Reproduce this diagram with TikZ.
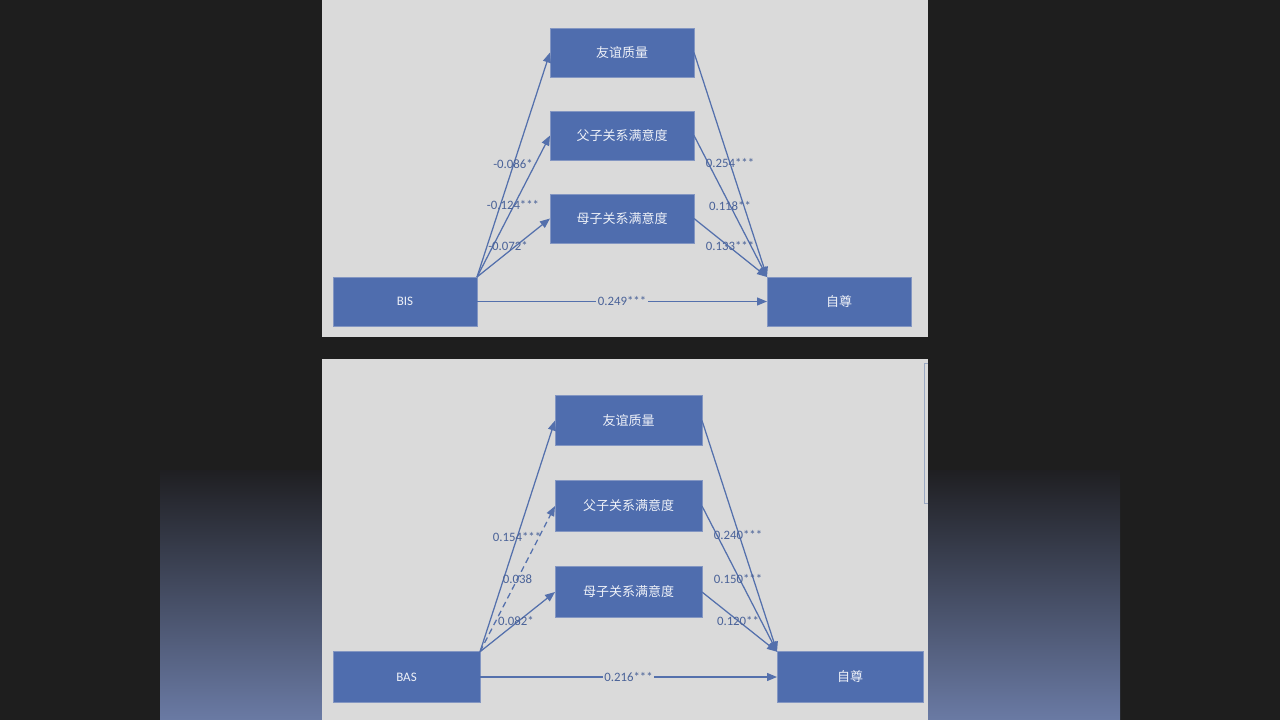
\documentclass[tikz,border=0pt]{standalone}
\usepackage{fontspec}
\setmainfont{Carlito}
\newfontfamily\cjk{Noto Sans CJK SC}
\usetikzlibrary{arrows.meta}
\definecolor{bgdark}{HTML}{1E1E1E}
\definecolor{gradtop}{HTML}{1F1F22}
\definecolor{gradbot}{HTML}{6A7AA4}
\definecolor{panelgray}{HTML}{DADADA}
\definecolor{boxblue}{HTML}{4F6DAE}
\definecolor{boxedge}{HTML}{8396C2}
\definecolor{lineblue}{HTML}{5470AC}
\definecolor{lbltext}{HTML}{4A6298}
\definecolor{boxtext}{HTML}{EEF1F8}
\definecolor{brackcol}{HTML}{9AA8C2}
\tikzset{
  vbox/.style={rectangle, fill=boxblue, draw=boxedge, line width=0.6pt,
    inner sep=0pt, outer sep=0pt, text=boxtext, font=\cjk\fontsize{13}{15}\selectfont},
  tbox/.style={vbox, minimum width=144pt, minimum height=49pt},
  bbox/.style={vbox, minimum width=147pt, minimum height=50.5pt},
  arr/.style={draw=lineblue, line width=1.25pt, -{Triangle[length=10pt,width=8pt]}},
  darr/.style={arr, dash pattern=on 6pt off 4pt},
  lbl/.style={text=lbltext, inner sep=1pt, font=\fontsize{12.8}{14}\selectfont},
  lblfill/.style={lbl, fill=panelgray, inner sep=1.5pt}
}
\begin{document}
\begin{tikzpicture}[x=1pt,y=-1pt]
\useasboundingbox (0,0) rectangle (1280,720);
\fill[bgdark] (0,0) rectangle (1280,720);
\shade[top color=gradtop, bottom color=gradbot] (160,470) rectangle (1120,720);
% panels
\fill[panelgray] (322,0) rectangle (928,337);
\fill[panelgray] (322,359) rectangle (928,720);
\draw[brackcol, line width=0.9pt] (928,363) -- (924,363) -- (924,503) -- (928,503);

% ===== top diagram =====
\node[tbox] (f1) at (622,52.5) {友谊质量};
\node[tbox] (f2) at (622,135.5) {父子关系满意度};
\node[tbox] (f3) at (622,218.5) {母子关系满意度};
\node[tbox, font=\fontsize{13}{15}\selectfont] (bis) at (405,301.5) {BIS};
\node[tbox] (se) at (839,301.5) {自尊};

\draw[arr] (bis.north east) -- (f1.west);
\draw[arr] (bis.north east) -- (f2.west);
\draw[arr] (bis.north east) -- (f3.west);
\draw[arr] (f1.east) -- (se.north west);
\draw[arr] (f2.east) -- (se.north west);
\draw[arr] (f3.east) -- (se.north west);
\draw[arr] (bis.east) -- node[lblfill] (d1) {0.249***} (se.west);

\node[lbl] (a1) at (513,164) {-0.086*};
\node[lbl] (a2) at (513,205.5) {-0.124***};
\node[lbl] (a3) at (508,246.5) {-0.072*};
\node[lbl] (b1) at (730,163.5) {0.254***};
\node[lbl] (b2) at (730,206) {0.118**};
\node[lbl] (b3) at (730,246.5) {0.133***};

% ===== bottom diagram =====
\node[bbox] (g1) at (628.5,420.5) {友谊质量};
\node[bbox] (g2) at (628.5,506) {父子关系满意度};
\node[bbox] (g3) at (628.5,592) {母子关系满意度};
\node[bbox, font=\fontsize{13}{15}\selectfont] (bas) at (406.5,677) {BAS};
\node[bbox, minimum width=146pt] (se2) at (850,677) {自尊};

\draw[arr] (bas.north east) -- (g1.west);
\draw[darr] (bas.north east) -- (g2.west);
\draw[arr] (bas.north east) -- (g3.west);
\draw[arr] (g1.east) -- (se2.north west);
\draw[arr] (g2.east) -- (se2.north west);
\draw[arr] (g3.east) -- (se2.north west);
\draw[arr] (bas.east) -- node[lblfill] (d2) {0.216***} (se2.west);

\node[lbl] (c1) at (517,536.5) {0.154***};
\node[lbl] (c2) at (517.5,579) {0.038};
\node[lbl] (c3) at (516,621) {0.082*};
\node[lbl] (e1) at (738,535.5) {0.240***};
\node[lbl] (e2) at (738,578.5) {0.150***};
\node[lbl] (e3) at (738,621) {0.120**};
\end{tikzpicture}
\end{document}
